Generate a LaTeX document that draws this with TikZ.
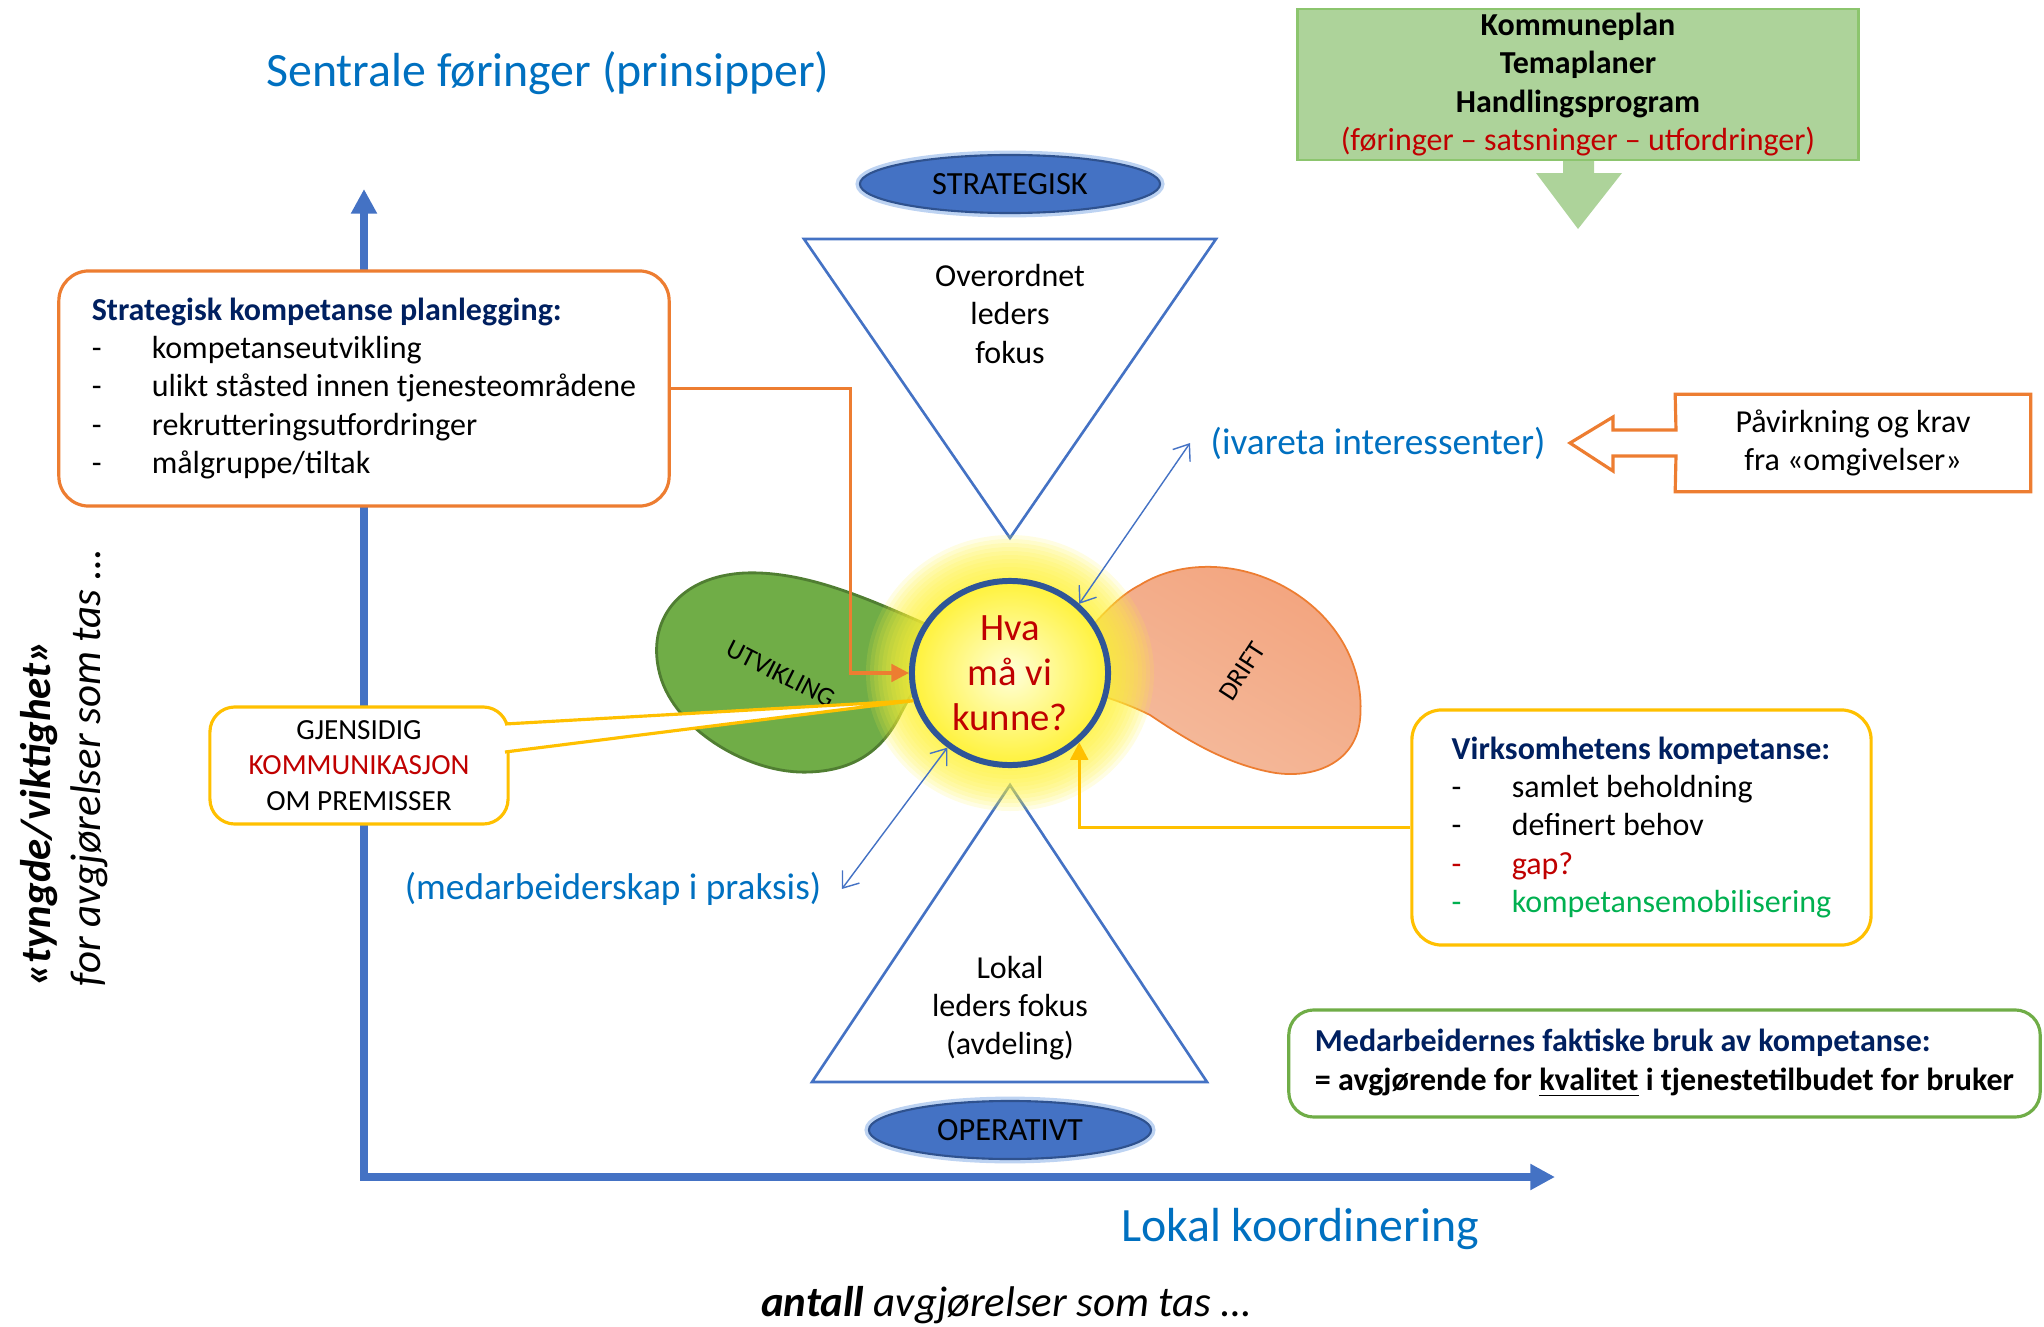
\documentclass[tikz,border=0pt]{standalone}
\usepackage{fontspec}
\setmainfont{Carlito}
\usetikzlibrary{shapes.geometric,arrows.meta}
\definecolor{axisblue}{HTML}{4472C4}
\definecolor{titleblue}{HTML}{0070C0}
\definecolor{navy}{HTML}{002060}
\definecolor{orangeline}{HTML}{ED7D31}
\definecolor{goldline}{HTML}{FFC000}
\definecolor{darkred}{HTML}{C00000}
\definecolor{textgreen}{HTML}{00B050}
\definecolor{boxgreen}{HTML}{ADD39A}
\definecolor{boxgreenline}{HTML}{8CC56E}
\definecolor{edgegreen}{HTML}{70AD47}
\definecolor{utvgreen}{HTML}{70AD47}
\definecolor{utvdark}{HTML}{507E32}
\definecolor{driftdark}{HTML}{F3A47E}
\definecolor{driftlight}{HTML}{F4BDA0}
\definecolor{pillline}{HTML}{2F528F}
\definecolor{pillglow}{HTML}{BDD3F2}
\definecolor{ringblue}{HTML}{2F5597}
\definecolor{glowyellow}{HTML}{FFF23A}
\newcommand{\bdash}[1][black]{\makebox[0.6cm][l]{\textcolor{#1}{-}}}

\begin{document}
\begin{tikzpicture}[x=0.01cm,y=-0.01cm,
	axis/.style={axisblue,line width=2pt,{Triangle[width=7pt,length=7pt]}-{Triangle[width=7pt,length=7pt]}},
	tri/.style={axisblue,line width=0.75pt},
	txt/.style={inner sep=0pt,align=center,font=\fontsize{9.1}{10.9}\selectfont},
	big/.style={titleblue,inner sep=0pt,font=\fontsize{13.6}{16}\selectfont},
	note/.style={titleblue,inner sep=0.2cm,font=\fontsize{10.6}{13}\selectfont},
	pill/.style={ellipse,draw=pillline,fill=axisblue,line width=0.6pt,inner sep=0pt,
		preaction={draw=pillglow,line width=2.5pt},font=\fontsize{9.2}{11}\selectfont},
	rbox/.style={draw,fill=white,rounded corners=0.3cm,line width=0.9pt,inner sep=0pt,
		align=left,font=\fontsize{9.1}{10.9}\selectfont},
	link/.style={line width=0.9pt,-{Triangle[width=5pt,length=5pt]}},
	twoway/.style={axisblue,line width=0.4pt,{Straight Barb[length=4pt,width=6pt]}-{Straight Barb[length=4pt,width=6pt]}},
	blob/.style={inner sep=0pt,font=\fontsize{7.6}{9}\selectfont},
	side/.style={inner sep=0pt,font=\fontsize{12.2}{14}\selectfont\itshape}
]
	\useasboundingbox (0,0) rectangle (2044,1327);
	\coordinate (ytop) at (364,189);
	\coordinate (o) at (364,1177);
	\coordinate (xend) at (1555,1177);
	\coordinate (c) at (1010,673);
	\draw[axis] (ytop) -- (o) -- (xend);

	\draw[tri] (804,239) -- (1216,239) -- (1010,538) -- cycle;
	\draw[tri] (1010,785) -- (1207,1082) -- (812,1082) -- cycle;
	\node[txt] at (1010,314) (over) {Overordnet\\leders\\fokus};
	\node[txt] at (1010,1008) (lokal) {Lokal\\leders fokus\\(avdeling)};
	\node[pill,minimum width=3cm,minimum height=0.58cm] at (1010,184) (strat) {STRATEGISK};
	\node[pill,minimum width=2.82cm,minimum height=0.58cm] at (1010,1130) (oper) {OPERATIVT};

	\filldraw[fill=utvgreen,draw=utvdark,line width=0.8pt] (963,640) .. controls (900,615) and (820,570) .. (745,573)
		.. controls (680,576) and (645,620) .. (660,675) .. controls (675,730) and (750,775) .. (810,772)
		.. controls (860,770) and (885,745) .. (900,715) .. controls (915,685) and (935,660) .. (963,640) -- cycle;
	\node[blob,rotate=-27] at (781,674) (utv) {UTVIKLING};
	\shadedraw[top color=driftdark,bottom color=driftlight,shading angle=-30,draw=orangeline,line width=0.5pt]
		(1051,678) .. controls (1080,640) and (1110,600) .. (1140,585)
		.. controls (1180,560) and (1240,560) .. (1290,590) .. controls (1340,620) and (1365,670) .. (1360,720)
		.. controls (1355,765) and (1310,780) .. (1270,772) .. controls (1220,762) and (1180,735) .. (1150,715)
		.. controls (1110,695) and (1075,690) .. (1051,678) -- cycle;
	\node[blob,rotate=57] at (1242,671) (drift) {DRIFT};

	\foreach \r in {100,104,...,144}
		\fill[glowyellow,opacity=0.14] (c) ellipse ({\r} and {\r-6});
	\node[ellipse,draw=ringblue,line width=1.7pt,inner sep=0pt,minimum width=1.96cm,minimum height=1.84cm,
		inner color=yellow!15,outer color=glowyellow,text=darkred,align=center,
		font=\fontsize{11}{12.8}\selectfont] at (c) (kunne) {Hva\\må vi\\kunne?};

	\node[rbox,draw=orangeline,minimum width=6.1cm,minimum height=2.35cm] at (364,388.5) (skp)
		{\textcolor{navy}{\textbf{Strategisk kompetanse planlegging:}}\\
		\bdash kompetanseutvikling\\
		\bdash ulikt ståsted innen tjenesteområdene\\
		\bdash rekrutteringsutfordringer\\
		\bdash målgruppe/tiltak};
	\node[rbox,draw=goldline,align=center,rounded corners=0.25cm,minimum width=2.98cm,minimum height=1.17cm,
		font=\fontsize{8.3}{10}\selectfont] at (359,765.5) (gjen)
		{GJENSIDIG\\\textcolor{darkred}{KOMMUNIKASJON}\\OM PREMISSER};
	\coordinate (g1) at (505,724);
	\coordinate (g2) at (505,752);
	\fill[white] (g1) -- (kunne.196) -- (g2) -- cycle;
	\draw[goldline,line width=0.9pt] (g1) -- (kunne.196) -- (g2);
	\node[rbox,draw=goldline,minimum width=4.59cm,minimum height=2.35cm] at (1641.5,827.5) (virk)
		{\textcolor{navy}{\textbf{Virksomhetens kompetanse:}}\\
		\bdash samlet beholdning\\
		\bdash definert behov\\
		\bdash[darkred]\textcolor{darkred}{gap?}\\
		\bdash[textgreen]\textcolor{textgreen}{kompetansemobilisering}};
	\node[rbox,draw=edgegreen,rounded corners=0.25cm,minimum width=7.51cm,minimum height=1.07cm] at (1664.5,1063.5) (medb)
		{\textcolor{navy}{\textbf{Medarbeidernes faktiske bruk av kompetanse:}}\\
		\textbf{= avgjørende for \underline{kvalitet} i tjenestetilbudet for bruker}};
	\node[txt,draw=boxgreenline,fill=boxgreen,line width=0.8pt,minimum width=5.6cm,minimum height=1.51cm] at (1578,84.5) (kplan)
		{\textbf{Kommuneplan}\\\textbf{Temaplaner}\\\textbf{Handlingsprogram}\\\textcolor{darkred}{(føringer – satsninger – utfordringer)}};
	\fill[boxgreen] (1563,161) -- (1594,161) -- (1594,173) -- (1622,173) -- (1578,229) -- (1536,173) -- (1563,173) -- cycle;
	\node[txt,minimum width=3.54cm,minimum height=0.96cm] at (1853,443) (pav) {Påvirkning og krav\\fra «omgivelser»};
	\draw[orangeline,line width=0.9pt] (pav.north west) -- (pav.north east) -- (pav.south east) -- (pav.south west)
		-- (1676,456) -- (1613,456) -- (1613,471) -- (1570,443) -- (1613,417) -- (1613,430) -- (1676,430) -- cycle;

	\node[note] at (1378,443) (iva) {(ivareta interessenter)};
	\node[note] at (613,889) (med) {(medarbeiderskap i praksis)};
	\draw[link,orangeline] (skp.east) -- ++(180,0) |- (kunne.west);
	\draw[link,goldline] (virk.west) -| (kunne.-45);
	\draw[twoway] (kunne.45) -- (iva.west);
	\draw[twoway] (kunne.-130) -- (med.east);

	\node[big] at (548,73) (sentr) {Sentrale føringer (prinsipper)};
	\node[big] at (1300,1229) (koord) {Lokal koordinering};
	\node[side] at (1006,1305) (antall) {\textbf{antall} avgjørelser som tas …};
	\node[side,rotate=90,anchor=west] at (39,987) (tyngde) {\textbf{«tyngde/viktighet»}};
	\node[side,rotate=90,anchor=west] at (89,987) (foravg) {for avgjørelser som tas …};
\end{tikzpicture}
\end{document}
